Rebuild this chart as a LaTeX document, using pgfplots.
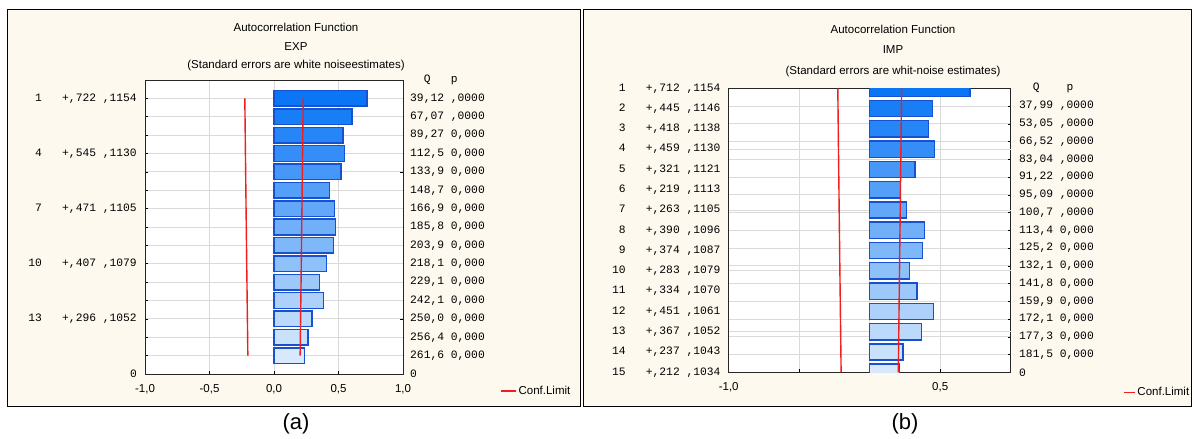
\documentclass[border=0pt]{standalone}
\usepackage{fontspec}
\setmainfont{Liberation Sans}
\setmonofont{Liberation Mono}
\usepackage{pgfplots}
\usepackage{pgfplotstable}
\pgfplotsset{compat=1.18}

\definecolor{panelbg}{RGB}{253,249,239}
\definecolor{gridc}{RGB}{218,218,218}
\definecolor{bartop}{RGB}{10,118,246}
\definecolor{barbot}{RGB}{216,233,252}
\definecolor{baredge}{RGB}{24,80,210}
\definecolor{conf}{RGB}{240,30,30}
\colorlet{c1}{bartop}
\colorlet{c2}{bartop!93!barbot}
\colorlet{c3}{bartop!86!barbot}
\colorlet{c4}{bartop!79!barbot}
\colorlet{c5}{bartop!71!barbot}
\colorlet{c6}{bartop!64!barbot}
\colorlet{c7}{bartop!57!barbot}
\colorlet{c8}{bartop!50!barbot}
\colorlet{c9}{bartop!43!barbot}
\colorlet{c10}{bartop!36!barbot}
\colorlet{c11}{bartop!29!barbot}
\colorlet{c12}{bartop!21!barbot}
\colorlet{c13}{bartop!14!barbot}
\colorlet{c14}{bartop!7!barbot}
\colorlet{c15}{barbot}

\pgfplotstableread{
lag r cl ncl
1 0.722 0.2262 -0.2262
2 0.606 0.2246 -0.2246
3 0.536 0.2230 -0.2230
4 0.545 0.2215 -0.2215
5 0.519 0.2197 -0.2197
6 0.428 0.2181 -0.2181
7 0.471 0.2166 -0.2166
8 0.476 0.2148 -0.2148
9 0.463 0.2131 -0.2131
10 0.407 0.2115 -0.2115
11 0.355 0.2097 -0.2097
12 0.383 0.2080 -0.2080
13 0.296 0.2062 -0.2062
14 0.264 0.2044 -0.2044
15 0.236 0.2027 -0.2027
}\acfA

\pgfplotstableread{
lag r cl ncl
1 0.712 0.2262 -0.2262
2 0.445 0.2246 -0.2246
3 0.418 0.2230 -0.2230
4 0.459 0.2215 -0.2215
5 0.321 0.2197 -0.2197
6 0.219 0.2181 -0.2181
7 0.263 0.2166 -0.2166
8 0.390 0.2148 -0.2148
9 0.374 0.2131 -0.2131
10 0.283 0.2115 -0.2115
11 0.334 0.2097 -0.2097
12 0.451 0.2080 -0.2080
13 0.367 0.2062 -0.2062
14 0.237 0.2044 -0.2044
15 0.212 0.2027 -0.2027
}\acfB

\newcommand{\sansf}{\fontsize{11.5}{13}\selectfont}
\newcommand{\monof}{\fontsize{11.3}{13}\selectfont\ttfamily}
\newcommand{\lbl}[3]{\makebox[13.56pt][r]{#1}\hspace{20.34pt}#2\hspace{6.78pt}#3}

\pgfplotsset{
  acfbase/.style={
    scale only axis, anchor=south west,
    xmin=-1, xmax=1, y dir=reverse,
    tick align=inside, major tick length=3pt, minor tick length=3pt,
    tick style={black, line width=0.6pt},
    axis line style={black!85, line width=0.9pt},
    tick label style={font=\sansf},
    grid style={gridc, line width=0.8pt},
    minor grid style={gridc, line width=0.8pt},
  },
  conf line/.style={draw=conf, line width=1.4pt, mark=none, line join=miter},
}

\begin{document}
\begin{tikzpicture}
\path[use as bounding box, fill=white] (0pt,0pt) rectangle (1194pt,439pt);
\draw[fill=panelbg, line width=0.9pt] (7pt,33pt) rectangle (580.5pt,430pt);
\draw[fill=panelbg, line width=0.9pt] (583.5pt,33pt) rectangle (1191pt,430pt);

% ---------- panel (a) ----------
\node[font=\sansf] at (296pt,411.7pt) {Autocorrelation Function};
\node[font=\sansf] at (296pt,392.3pt) {EXP};
\node[font=\sansf] at (296pt,373.3pt) {(Standard errors are white noiseestimates)};

\begin{axis}[acfbase, at={(145pt,65pt)}, width=258pt, height=294pt,
  ymin=0, ymax=16,
  axis background/.style={fill=white},
  hide x axis, axis y line*=right,
  ytick={0,...,16},
  yticklabels={{~~Q~~~p},{39,12 ,0000},{67,07 ,0000},{89,27 0,000},{112,5 0,000},{133,9 0,000},{148,7 0,000},{166,9 0,000},{185,8 0,000},{203,9 0,000},{218,1 0,000},{229,1 0,000},{242,1 0,000},{250,0 0,000},{256,4 0,000},{261,6 0,000},{0}},
  yticklabel style={font=\monof, anchor=west, inner sep=0pt, xshift=7pt},
]
\end{axis}

\begin{axis}[acfbase, at={(145pt,65pt)}, width=258pt, height=294pt,
  ymin=0, ymax=16,
  xtick={-1,-0.5,0,0.5,1},
  xticklabels={{-1,0},{-0,5},{0,0},{0,5},{1,0}},
  xtick pos=bottom,
  xticklabel style={inner sep=0pt, anchor=north, yshift=-10pt},
  ytick={1,4,7,10,13,16},
  yticklabels={{\lbl{1}{+,722}{,1154}},{\lbl{4}{+,545}{,1130}},{\lbl{7}{+,471}{,1105}},{\lbl{10}{+,407}{,1079}},{\lbl{13}{+,296}{,1052}},{0}},
  minor ytick={1,...,15},
  ytick pos=left,
  yticklabel style={font=\monof, anchor=east, inner sep=0pt, xshift=-8pt},
  xmajorgrids, yminorgrids,
  legend style={at={(1.376,-0.058)}, anchor=west, draw=none, fill=none, font=\sansf, inner sep=0pt},
  legend image code/.code={\draw[conf, line width=1.4pt] (0pt,0pt) -- (15pt,0pt);},
]
\pgfplotsinvokeforeach{1,...,15}{
  \addplot[xbar, bar shift=0pt, bar width=0.85, fill=c#1, draw=baredge, line width=1.4pt, restrict y to domain=#1:#1, forget plot] table[x=r, y=lag]{\acfA};
}
\addplot[conf line, forget plot] table[x=ncl, y=lag]{\acfA};
\addplot[conf line] table[x=cl, y=lag]{\acfA};
\addlegendentry{Conf.Limit}
\end{axis}

\node[font=\fontsize{22}{24}\selectfont] at (296pt,15pt) {(a)};

% ---------- panel (b) ----------
\node[font=\sansf] at (893pt,410pt) {Autocorrelation Function};
\node[font=\sansf] at (893pt,389pt) {IMP};
\node[font=\sansf] at (893pt,367.3pt) {(Standard errors are whit-noise estimates)};

\begin{axis}[acfbase, at={(728.7pt,66.7pt)}, width=282pt, height=284pt,
  ymin=0, ymax=16,
  axis background/.style={fill=white},
  hide x axis, axis y line*=right,
  ytick={0,...,16},
  ymajorgrids,
  yticklabels={{~~Q~~~~p},{37,99 ,0000},{53,05 ,0000},{66,52 ,0000},{83,04 ,0000},{91,22 ,0000},{95,09 ,0000},{100,7 ,0000},{113,4 0,000},{125,2 0,000},{132,1 0,000},{141,8 0,000},{159,9 0,000},{172,1 0,000},{177,3 0,000},{181,5 0,000},{0}},
  yticklabel style={font=\monof, anchor=west, inner sep=0pt, xshift=8.3pt},
]
\end{axis}

\begin{axis}[acfbase, at={(728.7pt,66.7pt)}, width=282pt, height=284pt,
  ymin=1, ymax=15,
  xtick={-1,-0.5,0,0.5,1},
  xticklabels={{-1,0},{},{},{0,5},{}},
  xtick pos=bottom,
  xticklabel style={inner sep=0pt, anchor=north, yshift=-10pt},
  ytick={1,...,15},
  yticklabels={{\lbl{1}{+,712}{,1154}},{\lbl{2}{+,445}{,1146}},{\lbl{3}{+,418}{,1138}},{\lbl{4}{+,459}{,1130}},{\lbl{5}{+,321}{,1121}},{\lbl{6}{+,219}{,1113}},{\lbl{7}{+,263}{,1105}},{\lbl{8}{+,390}{,1096}},{\lbl{9}{+,374}{,1087}},{\lbl{10}{+,283}{,1079}},{\lbl{11}{+,334}{,1070}},{\lbl{12}{+,451}{,1061}},{\lbl{13}{+,367}{,1052}},{\lbl{14}{+,237}{,1043}},{\lbl{15}{+,212}{,1034}}},
  ytick pos=left,
  ytick style={draw=none},
  yticklabel style={font=\monof, anchor=east, inner sep=0pt, xshift=-8pt},
  extra y ticks={4,7,10,13}, extra y tick labels={},
  extra y tick style={grid=major},
  xmajorgrids,
  legend style={at={(1.397,-0.071)}, anchor=west, draw=none, fill=none, font=\sansf, inner sep=0pt},
  legend image code/.code={\draw[conf, line width=1.6pt] (0pt,0pt) -- (11pt,0pt);},
]
\pgfplotsinvokeforeach{1,...,15}{
  \addplot[xbar, bar shift=0pt, bar width=0.8, fill=c#1, draw=baredge, line width=1.4pt, restrict y to domain=#1:#1, forget plot] table[x=r, y=lag]{\acfB};
}
\addplot[conf line, forget plot] table[x=ncl, y=lag]{\acfB};
\addplot[conf line] table[x=cl, y=lag]{\acfB};
\addlegendentry{Conf.Limit}
\end{axis}

\node[font=\fontsize{22}{24}\selectfont] at (905pt,15pt) {(b)};
\end{tikzpicture}
\end{document}
